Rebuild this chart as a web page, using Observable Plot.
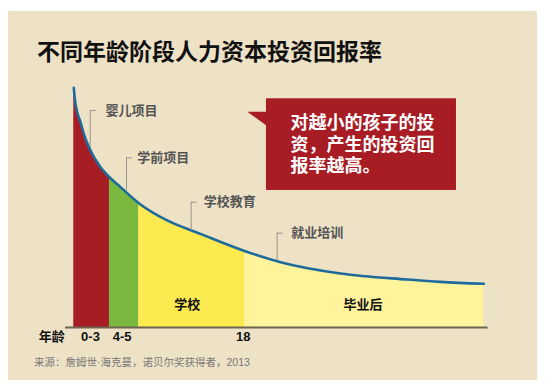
<!DOCTYPE html>
<html><head><meta charset="utf-8">
<script src="https://cdn.jsdelivr.net/npm/d3@7"></script>
<script src="https://cdn.jsdelivr.net/npm/@observablehq/plot@0.6"></script>
<style>
html,body{margin:0;padding:0;background:#fff;}
body{width:547px;height:390px;position:relative;overflow:hidden;font-family:"Liberation Sans","Noto Sans CJK SC",sans-serif;}
#panel{position:absolute;left:8px;top:11px;width:529px;height:369px;background:#eee2c6;}
#title{position:absolute;left:37px;top:39px;font-size:23px;line-height:23px;font-weight:700;color:#111;white-space:nowrap;font-family:"Noto Sans CJK SC",sans-serif;}
#chart{position:absolute;left:0;top:75px;}
#source{position:absolute;left:34px;top:357px;font-size:10.5px;line-height:11px;color:#777;white-space:nowrap;}
</style></head>
<body>
<div id="panel"></div>
<div id="title">不同年龄阶段人力资本投资回报率</div>
<div id="chart"></div>
<div id="source">来源：詹姆世·海克曼，诺贝尔奖获得者，2013</div>
<script>
// Return-on-investment curve (x: life-stage position, y: return index)
const curveX = [1.96, 2.25, 2.77, 3.55, 4.33, 5.92, 8.28, 10.41, 13.02, 17.35, 24.07, 31.95, 42.37, 50.89, 65.09, 80.88, 88.76, 99.0];
const curveY = [99.9, 94.6, 89.7, 85.6, 80.7, 73.75, 66.8, 62.6, 58.5, 51.8, 44.6, 39.0, 31.9, 27.2, 22.5, 20.0, 19.0, 18.2];

// Life stages
const stageNames = ["0-3", "4-5", "学校", "毕业后"];
const stageStart = [1.96, 10.41, 17.35, 42.37];
const stageEnd = [10.41, 17.35, 42.37, 99.0];
const stageColors = ["#a81c24", "#7ab840", "#fdea50", "#fff39c"];

// Axis tick labels
const tickLabels = ["0-3", "4-5", "18"];
const tickPos = [5.92, 13.42, 42.06];
const axisTitle = "年龄";

// Region labels inside the areas
const regionLabels = ["学校", "毕业后"];
const regionX = [28.8, 70.4];
const regionY = [9.6, 9.6];

// Program labels with leader lines
const programNames = ["婴儿项目", "学前项目", "学校教育", "就业培训"];
const leaderX = [5.86, 14.44, 29.75, 50.09];
const leaderBottom = [75.0, 57.1, 40.4, 27.9];
const programY = [90.4, 70.7, 52.2, 39.3];
const programTextX = [9.47, 16.97, 32.73, 53.42];

// Callout
const calloutText = ["对越小的孩子的投", "资，产生的投资回", "报率越高。"];
const calloutBox = {x1: 47.57, x2: 92.54, y1: 57.1, y2: 95.3};
const calloutPointer = [{x: 43.15, y1: 89.7, y2: 89.7}, {x: 47.9, y1: 83.6, y2: 89.7}];
const calloutTextX = 53.25, calloutTextY = 76.5;

const pts = curveX.map((u, i) => ({u, v: curveY[i]}));
const stages = stageNames.map((name, i) => ({name, s: stageStart[i], e: stageEnd[i], color: stageColors[i]}));
const programs = programNames.map((name, i) => ({name, lx: leaderX[i], lb: leaderBottom[i], y: programY[i], tx: programTextX[i]}));
const ticks = tickLabels.map((t, i) => ({t, x: tickPos[i]}));
const regions = regionLabels.map((t, i) => ({t, x: regionX[i], y: regionY[i]}));

const fontFam = '"Liberation Sans","Noto Sans CJK SC",sans-serif';

const marks = [];
for (const st of stages) {
  marks.push(Plot.areaY(pts.filter(p => p.u >= st.s - 1e-9 && p.u <= st.e + 1e-9),
    {x: "u", y: "v", fill: st.color, curve: "monotone-x"}));
}
marks.push(Plot.line(pts, {x: "u", y: "v", stroke: "#1d6b9c", strokeWidth: 2.6, curve: "monotone-x"}));
marks.push(Plot.ruleY([0], {x1: 0, x2: 100, stroke: "#6e6552", strokeWidth: 2}));
// leader lines
marks.push(Plot.ruleX(programs, {x: "lx", y1: "lb", y2: "y", stroke: "#9a958a", strokeWidth: 1}));
marks.push(Plot.ruleY(programs, {y: "y", x1: "lx", x2: d => d.lx + 1.42, stroke: "#9a958a", strokeWidth: 1}));
marks.push(Plot.text(programs, {x: "tx", y: "y", text: "name", textAnchor: "start", lineAnchor: "middle",
  fontSize: 13, fontWeight: "bold", fill: "#545454"}));
// region labels
marks.push(Plot.text(regions, {x: "x", y: "y", text: "t", lineAnchor: "middle", fontSize: 13, fontWeight: "bold", fill: "#111"}));
// tick labels
marks.push(Plot.text(ticks, {x: "x", y: 0, dy: 9, text: "t", lineAnchor: "middle", fontSize: 13, fontWeight: "bold", fill: "#111"}));
marks.push(Plot.text([axisTitle], {x: -0.2, y: 0, dy: 9, text: d => d, textAnchor: "end", lineAnchor: "middle", fontSize: 13, fontWeight: "bold", fill: "#111"}));
// callout
marks.push(Plot.areaY(calloutPointer, {x: "x", y1: "y1", y2: "y2", fill: "#a81c24"}));
marks.push(Plot.rect([calloutBox], {x1: "x1", x2: "x2", y1: "y1", y2: "y2", fill: "#a81c24"}));
marks.push(Plot.text([calloutText.join("\n")], {x: calloutTextX, y: calloutTextY, text: d => d, textAnchor: "start",
  lineAnchor: "middle", lineHeight: 1.2, fontSize: 18, fontWeight: "bold", fill: "#fff"}));

const chart = Plot.plot({
  width: 547,
  height: 280,
  marginLeft: 65,
  marginRight: 59.5,
  marginTop: 12,
  marginBottom: 28,
  x: {domain: [0, 100], axis: null},
  y: {domain: [0, 100], axis: null},
  style: {background: "transparent", overflow: "visible", fontFamily: fontFam},
  marks
});
document.getElementById("chart").appendChild(chart);
</script></body></html>
